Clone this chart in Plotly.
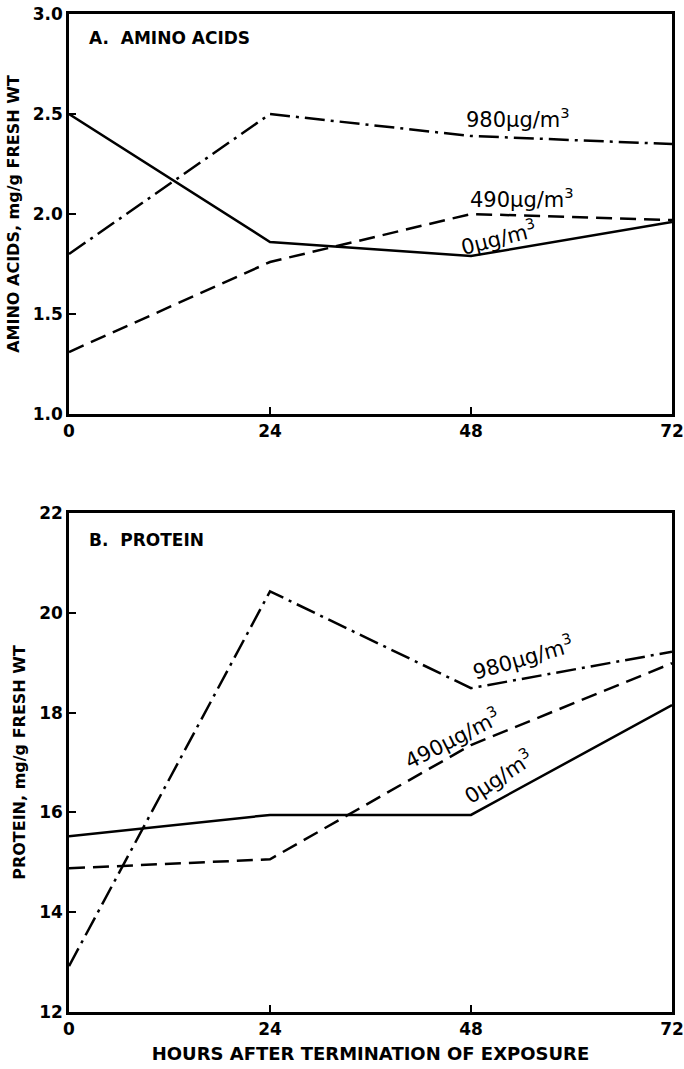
import plotly.graph_objects as go

hours = [0, 24, 48, 72]
x_ticks = [0, 24, 48, 72]

# Panel A: amino acids, mg/g fresh wt
aa_0 = [2.50, 1.86, 1.79, 1.96]
aa_490 = [1.31, 1.76, 2.00, 1.97]
aa_980 = [1.80, 2.50, 2.39, 2.35]
aa_ticks = [1.0, 1.5, 2.0, 2.5, 3.0]

# Panel B: protein, mg/g fresh wt
pr_0 = [15.52, 15.95, 15.95, 18.15]
pr_490 = [14.88, 15.06, 17.35, 18.99]
pr_980 = [12.92, 20.43, 18.49, 19.22]
pr_ticks = [12, 14, 16, 18, 20, 22]

labels = ["0µg/m<sup>3</sup>", "490µg/m<sup>3</sup>", "980µg/m<sup>3</sup>"]

FONT = "DejaVu Sans"
line_w = 2.5
styles = ["solid", "16px,8px", "20px,6px,3px,6px"]

fig = go.Figure()
for ys, st in zip([aa_0, aa_490, aa_980], styles):
    fig.add_trace(go.Scatter(x=hours, y=ys, mode="lines", xaxis="x", yaxis="y",
                             line=dict(color="black", width=line_w, dash=st), showlegend=False))
for ys, st in zip([pr_0, pr_490, pr_980], styles):
    fig.add_trace(go.Scatter(x=hours, y=ys, mode="lines", xaxis="x2", yaxis="y2",
                             line=dict(color="black", width=line_w, dash=st), showlegend=False))

tick_font = dict(family=FONT, size=17, color="black", weight="bold")
title_font = dict(family=FONT, size=16, color="black", weight="bold")
axis_common = dict(showline=True, linewidth=2.5, linecolor="black", mirror=True,
                   ticks="inside", ticklen=7, tickwidth=2, tickcolor="black",
                   showgrid=False, zeroline=False, automargin=False,
                   tickfont=tick_font)

W, H = 684, 1069
xd = [69 / W, 672 / W]
fig.update_layout(
    width=W, height=H,
    margin=dict(l=0, r=0, t=0, b=0),
    paper_bgcolor="white", plot_bgcolor="white",
    xaxis=dict(domain=xd, range=[0, 72], tickvals=x_ticks, anchor="y", **axis_common),
    yaxis=dict(domain=[1 - 414 / H, 1 - 14 / H], range=[1.0, 3.0], tickvals=aa_ticks,
               tickformat=".1f", anchor="x",
               title=dict(text="AMINO ACIDS, mg/g FRESH WT", font=title_font, standoff=10),
               **axis_common),
    xaxis2=dict(domain=xd, range=[0, 72], tickvals=x_ticks, anchor="y2",
                title=dict(text="HOURS AFTER TERMINATION OF EXPOSURE",
                           font=dict(family=FONT, size=18, color="black", weight="bold"), standoff=10),
                **axis_common),
    yaxis2=dict(domain=[1 - 1012 / H, 1 - 513 / H], range=[12, 22], tickvals=pr_ticks, anchor="x2",
                title=dict(text="PROTEIN, mg/g FRESH WT", font=title_font, standoff=10),
                **axis_common),
)

# panel titles
panel_font = dict(family=FONT, size=17, color="black", weight="bold")
fig.add_annotation(text="A.  AMINO ACIDS", xref="x domain", yref="y domain", x=0.03, y=0.94,
                   xanchor="left", yanchor="middle", showarrow=False, font=panel_font)
fig.add_annotation(text="B.  PROTEIN", xref="x2 domain", yref="y2 domain", x=0.03, y=0.946,
                   xanchor="left", yanchor="middle", showarrow=False, font=panel_font)

# series labels, panel A
lab_font = dict(family=FONT, size=21, color="black")
for txt, xx, yy, ang in [(labels[2], 53.6, 2.48, 0), (labels[1], 54.1, 2.08, 0), (labels[0], 51.3, 1.885, -14)]:
    fig.add_annotation(text=txt, x=xx, y=yy, xref="x", yref="y", showarrow=False,
                       textangle=ang, font=lab_font)
# series labels, panel B
for txt, xx, yy, ang in [(labels[2], 54.2, 19.11, -16), (labels[1], 45.7, 17.5, -27), (labels[0], 51.3, 16.72, -33)]:
    fig.add_annotation(text=txt, x=xx, y=yy, xref="x2", yref="y2", showarrow=False,
                       textangle=ang, font=lab_font)

fig.write_html("out.html", config={"displayModeBar": False},
               post_script="document.body.style.margin='0px';")
